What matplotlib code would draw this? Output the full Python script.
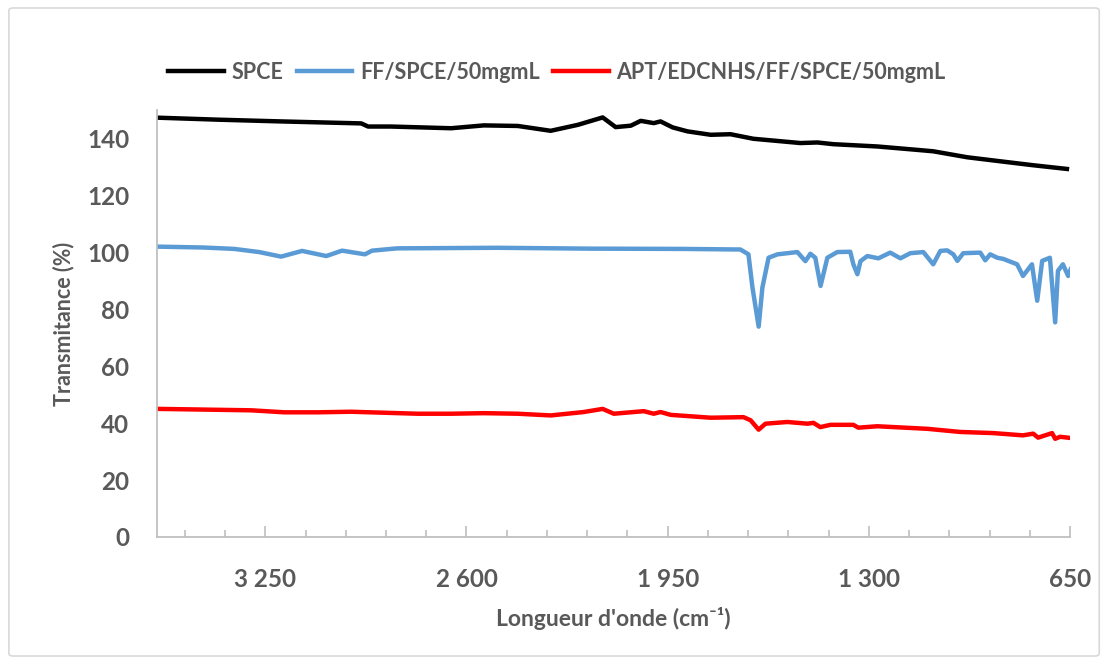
"""FTIR transmittance spectra: SPCE, FF/SPCE and APT/EDCNHS/FF/SPCE."""
import matplotlib

matplotlib.use("Agg")
import matplotlib.pyplot as plt
from matplotlib.patches import FancyBboxPatch
from matplotlib.ticker import FixedLocator, MultipleLocator

# wavenumber (cm-1) / transmittance (%)
wn_spce = [3595, 3400, 3200, 2940, 2918, 2844, 2650, 2544, 2434, 2328, 2240,
           2160, 2118, 2069, 2037, 1995, 1973, 1934, 1886, 1811, 1747, 1673,
           1521, 1466, 1415, 1273, 1144, 1092, 982, 876, 769, 660]
t_spce = [147.3, 146.6, 146.0, 145.3, 144.2, 144.2, 143.6, 144.6, 144.4, 142.7,
          144.8, 147.4, 144.0, 144.5, 146.2, 145.4, 146.0, 143.9, 142.5, 141.3,
          141.5, 139.9, 138.4, 138.6, 138.0, 137.2, 136.0, 135.5, 133.4, 132.0,
          130.6, 129.3]

wn_ff = [3595, 3450, 3350, 3270, 3199, 3131, 3053, 3002, 2928, 2905, 2824,
         2500, 2200, 1900, 1715, 1689, 1676, 1656, 1644, 1624, 1595, 1531,
         1505, 1489, 1473, 1456, 1434, 1402, 1360, 1350, 1337, 1327, 1305,
         1269, 1231, 1198, 1166, 1124, 1092, 1069, 1047, 1027, 1014, 995, 940,
         924, 908, 885, 866, 821, 802, 773, 756, 740, 715, 698, 689, 673, 656,
         648]
t_ff = [102.0, 101.7, 101.2, 100.1, 98.5, 100.5, 98.7, 100.6, 99.3, 100.6,
        101.4, 101.6, 101.3, 101.2, 101.0, 99.3, 87.6, 73.9, 87.6, 98.1, 99.3,
        100.1, 96.9, 99.5, 98.1, 88.2, 98.1, 100.1, 100.2, 95.8, 92.3, 96.9,
        98.7, 97.9, 99.9, 97.9, 99.7, 100.1, 95.8, 100.5, 100.7, 99.3, 97.0,
        99.7, 99.9, 97.2, 99.3, 98.1, 97.7, 95.8, 91.7, 95.8, 83.0, 97.0, 98.1,
        75.4, 93.5, 95.8, 91.7, 94.0]

wn_apt = [3595, 3295, 3189, 3079, 2973, 2757, 2650, 2544, 2434, 2328, 2221,
          2160, 2124, 2027, 1995, 1973, 1940, 1811, 1705, 1682, 1656, 1634,
          1563, 1498, 1479, 1457, 1424, 1350, 1334, 1273, 1111, 1005, 898, 802,
          769, 753, 708, 698, 682, 650]
t_apt = [45.0, 44.5, 43.8, 43.8, 44.0, 43.3, 43.3, 43.5, 43.3, 42.7, 43.9, 45.0,
         43.3, 44.2, 43.3, 43.9, 42.9, 41.9, 42.1, 41.0, 37.7, 39.8, 40.4, 39.8,
         40.1, 38.6, 39.4, 39.4, 38.4, 38.9, 38.0, 36.9, 36.5, 35.7, 36.3, 34.9,
         36.5, 34.5, 35.2, 34.8]

series = ["SPCE", "FF/SPCE/50mgmL", "APT/EDCNHS/FF/SPCE/50mgmL"]
colors = ["#000000", "#5B9BD5", "#FF0000"]

x_ticks = [3250, 2600, 1950, 1300, 650]
x_tick_labels = ["3 250", "2 600", "1 950", "1 300", "650"]
y_ticks = [0, 20, 40, 60, 80, 100, 120, 140]

txt = "#595959"
plt.rcParams["font.family"] = ["Lato", "DejaVu Sans"]
plt.rcParams["font.weight"] = "bold"

fig = plt.figure(figsize=(11.07, 6.64), dpi=100)
ax = fig.add_axes([0.1418, 0.1913, 0.8248, 0.643])

for wn, t, name, c in zip([wn_spce, wn_ff, wn_apt], [t_spce, t_ff, t_apt],
                          series, colors):
    ax.plot(wn, t, color=c, lw=3.2, label=name, solid_joinstyle="round")

ax.set_xlim(3600, 650)
ax.set_ylim(0, 150)
ax.xaxis.set_major_locator(FixedLocator(x_ticks))
ax.set_xticklabels(x_tick_labels)
ax.xaxis.set_minor_locator(MultipleLocator(130))
ax.set_yticks(y_ticks)

for side in ("top", "right"):
    ax.spines[side].set_visible(False)
for side in ("left", "bottom"):
    ax.spines[side].set_color("#BFBFBF")
    ax.spines[side].set_linewidth(1.3)

ax.tick_params(axis="x", which="major", direction="in", length=8, width=1.2,
               color="#BFBFBF", pad=22, labelsize=17.5, labelcolor=txt)
ax.tick_params(axis="x", which="minor", direction="in", length=5, width=1.2,
               color="#BFBFBF")
ax.tick_params(axis="y", length=0, pad=20, labelsize=17.5, labelcolor=txt)

ax.set_xlabel("Longueur d'onde (cm\u207b\u00b9)", fontsize=16.5,
              color=txt, fontweight="bold", labelpad=12)
ax.set_ylabel("Transmitance (%)", fontsize=15.5, color=txt, fontweight="bold",
              labelpad=9)

fig.legend(loc="center", bbox_to_anchor=(0.503, 0.891), ncol=3, frameon=False,
           fontsize=15.5, labelcolor=txt, handlelength=2.6, handletextpad=0.35,
           columnspacing=0.6, borderaxespad=0)

# light chart-area border
fig.patches.append(FancyBboxPatch((0.008, 0.012), 0.985, 0.976,
                                  boxstyle="round,pad=0,rounding_size=0.004",
                                  transform=fig.transFigure, fill=False,
                                  edgecolor="#D9D9D9", lw=1.2))

fig.savefig("out.png", dpi=100)
plt.close(fig)
